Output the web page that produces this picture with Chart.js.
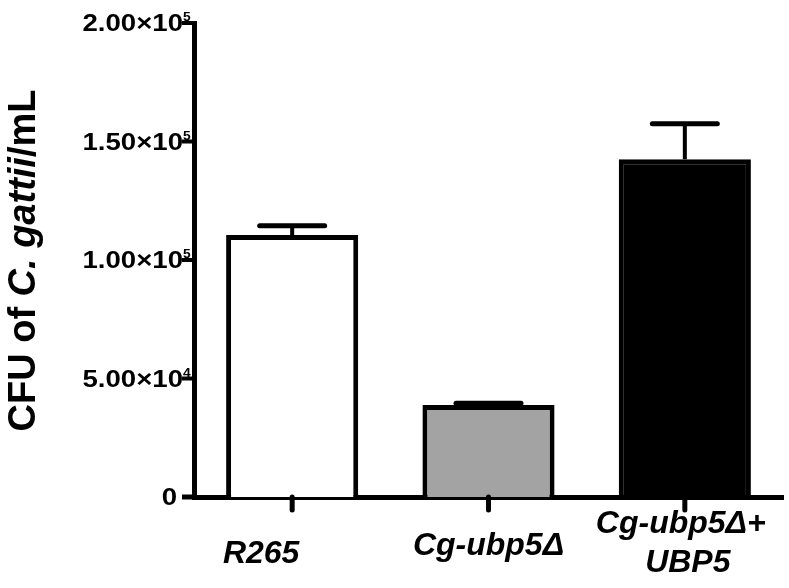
<!DOCTYPE html>
<html><head><meta charset="utf-8">
<script src="https://cdn.jsdelivr.net/npm/chart.js@4.4.1/dist/chart.umd.min.js"></script>
<style>html,body{margin:0;padding:0;background:#fff}#wrap{width:789px;height:588px}</style>
</head><body><div id="wrap"><canvas id="c" width="789" height="588"></canvas></div>
<script>
const categories = ['R265', 'Cg-ubp5Δ', ['Cg-ubp5Δ+', 'UBP5']];
const meanValues = [110500, 38800, 142500];
const errorValues = [4000, 800, 15000];
const yTickValues = [0, 50000, 100000, 150000, 200000];
const yTickMantissas = ['0', '5.00×10', '1.00×10', '1.50×10', '2.00×10'];
const yTickExponents = ['', '4', '5', '5', '5'];
const yTitleParts = [['CFU of ', false], ['C. gattii', true], ['/mL', false]];

// styling (not data)
const barColors = ['#ffffff', '#a3a3a3', '#000000'];
const FONT = '"Liberation Sans", Arial, sans-serif';
const xLabelOffsets = [[[-31, 66]], [[0, 58]], [[-4, 36], [3, 75]]];

const overlay = {
  id: 'overlay',
  afterDatasetsDraw(chart) {
    const ctx = chart.ctx, ys = chart.scales.y, meta = chart.getDatasetMeta(0);
    ctx.save();
    ctx.strokeStyle = '#000';
    meta.data.forEach((bar, i) => {
      const top = ys.getPixelForValue(meanValues[i]);
      const cap = ys.getPixelForValue(meanValues[i] + errorValues[i]);
      ctx.lineWidth = 4; ctx.lineCap = 'butt';
      ctx.beginPath(); ctx.moveTo(bar.x, top); ctx.lineTo(bar.x, cap); ctx.stroke();
      ctx.lineWidth = 5; ctx.lineCap = 'round';
      ctx.beginPath(); ctx.moveTo(bar.x - 32.5, cap); ctx.lineTo(bar.x + 32.5, cap); ctx.stroke();
    });
    ctx.restore();
  },
  afterDraw(chart) {
    const ctx = chart.ctx, ys = chart.scales.y, xs = chart.scales.x, area = chart.chartArea;
    const left = area.left, bottom = area.bottom;
    ctx.save();
    ctx.fillStyle = '#000'; ctx.strokeStyle = '#000';
    // y ticks and labels
    yTickValues.forEach((v, i) => {
      const py = ys.getPixelForValue(v);
      ctx.lineWidth = i === 0 ? 5 : 4; ctx.lineCap = 'butt';
      ctx.beginPath(); ctx.moveTo(left - 12, py); ctx.lineTo(left + (i === 0 ? 2.5 : 0), py); ctx.stroke();
      ctx.font = 'bold 23px ' + FONT;
      ctx.textAlign = 'right'; ctx.textBaseline = 'alphabetic';
      const rx = yTickExponents[i] ? left - 11 : left - 17;
      ctx.save(); ctx.translate(rx, py + 8.3); ctx.scale(1.2, 1);
      ctx.fillText(yTickMantissas[i], 0, 0); ctx.restore();
      if (yTickExponents[i]) {
        ctx.font = 'bold 12px ' + FONT; ctx.textAlign = 'left';
        ctx.save(); ctx.translate(left - 11, py - 2); ctx.scale(1.15, 1);
        ctx.fillText(yTickExponents[i], 0, 0); ctx.restore();
      }
    });
    // x ticks and labels
    categories.forEach((c, i) => {
      const px = xs.getPixelForValue(i);
      ctx.lineWidth = 5; ctx.lineCap = 'round';
      ctx.beginPath(); ctx.moveTo(px, bottom); ctx.lineTo(px, bottom + 13); ctx.stroke();
      const lines = Array.isArray(c) ? c : [c];
      ctx.font = 'italic bold 32px ' + FONT; ctx.textAlign = 'center'; ctx.textBaseline = 'alphabetic';
      lines.forEach((ln, j) => {
        const off = xLabelOffsets[i][j];
        ctx.fillText(ln, px + off[0], bottom + off[1]);
      });
    });
    // y title
    ctx.save();
    ctx.translate(35, 260.5); ctx.rotate(-Math.PI / 2);
    ctx.textAlign = 'left'; ctx.textBaseline = 'alphabetic';
    const fonts = yTitleParts.map(p => (p[1] ? 'italic ' : '') + 'bold 38px ' + FONT);
    let total = 0;
    yTitleParts.forEach((p, k) => { ctx.font = fonts[k]; total += ctx.measureText(p[0]).width; });
    let x = -total / 2;
    yTitleParts.forEach((p, k) => { ctx.font = fonts[k]; ctx.fillText(p[0], x, 0); x += ctx.measureText(p[0]).width; });
    ctx.restore();
    ctx.restore();
  }
};

new Chart(document.getElementById('c'), {
  type: 'bar',
  data: {
    labels: categories,
    datasets: [{
      data: meanValues,
      backgroundColor: barColors,
      borderColor: '#000',
      borderWidth: 5,
      borderSkipped: 'start',
      barPercentage: 0.673,
      categoryPercentage: 1
    }]
  },
  options: {
    responsive: false,
    devicePixelRatio: 1,
    animation: false,
    layout: { padding: { left: 194, right: 6, top: 23, bottom: 91 } },
    plugins: { legend: { display: false }, tooltip: { enabled: false } },
    scales: {
      x: {
        z: 1,
        grid: { display: false, drawTicks: false },
        border: { display: true, color: '#000', width: 5 },
        ticks: { display: false },
        afterFit: s => { s.height = 0; }
      },
      y: {
        z: 1,
        min: 0, max: 200000,
        grid: { display: false, drawTicks: false },
        border: { display: true, color: '#000', width: 5 },
        ticks: { display: false },
        afterFit: s => { s.width = 0; }
      }
    }
  },
  plugins: [overlay]
});
</script>
</body></html>
